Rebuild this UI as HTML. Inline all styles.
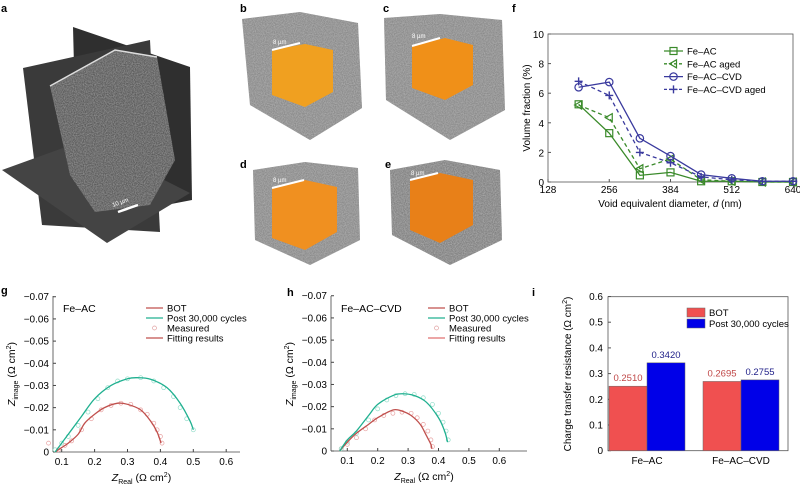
<!DOCTYPE html>
<html><head><meta charset="utf-8"><style>
html,body{margin:0;padding:0;background:#fff}
svg{display:block;font-family:"Liberation Sans",sans-serif}
</style></head><body>
<svg id="fig" width="800" height="484" viewBox="0 0 800 484">
<defs>
<filter id="noise" x="0" y="0" width="100%" height="100%"><feTurbulence type="fractalNoise" baseFrequency="0.9" numOctaves="2" seed="3"/><feColorMatrix type="matrix" values="0 0 0 0 0.5  0 0 0 0 0.5  0 0 0 0 0.5  0 0 0 1.2 -0.3"/><feComposite in2="SourceGraphic" operator="in"/></filter>
</defs>
<g font-weight="bold" font-size="11" fill="#000">
<text x="1" y="12">a</text><text x="240" y="12">b</text><text x="383" y="12">c</text><text x="512" y="12">f</text>
<text x="240" y="168">d</text><text x="385" y="168">e</text>
<text x="1" y="294">g</text><text x="287" y="296">h</text><text x="532" y="296">i</text>
</g>
<!-- panel a -->
<g>
<polygon points="73,27 190,67 192,200 78,222" fill="#2f2f2f"/>
<polygon points="23,68 150,40 160,232 42,225" fill="#3a3a3a"/>
<polygon points="2,170 85,140 190,193 107,243" fill="#444"/>
<polygon points="50,86 115,50 157,57 175,160 150,205 95,212 70,175" fill="#5a5a5a"/>
<polygon points="50,86 115,50 157,57 175,160 150,205 95,212 70,175" fill="#777" filter="url(#noise)" opacity="0.8"/>
<polyline points="50,86 115,50 157,57" fill="none" stroke="#ddd" stroke-width="1.5"/>
<line x1="118" y1="212" x2="138" y2="205" stroke="#fff" stroke-width="2.5"/>
<text x="113" y="207" font-size="6" fill="#fff" transform="rotate(-20 113 207)">10 µm</text>
</g>
<!-- panels b-e -->
<g>
<polygon points="242,19 300,12 358,23 362,108 310,140 250,105" fill="#8a8a8a"/>
<polygon points="242,19 300,12 358,23 362,108 310,140 250,105" fill="#999" filter="url(#noise)"/>
<polygon points="272,50 305,44 333,50 333,92 305,107 272,95" fill="#f0a020"/>
<line x1="272" y1="50" x2="300" y2="43" stroke="#fff" stroke-width="2"/><text x="273" y="44" font-size="6" fill="#fff">8 µm</text></g>
<g>
<polygon points="384,18 440,14 502,20 505,110 450,140 386,100" fill="#8a8a8a"/>
<polygon points="384,18 440,14 502,20 505,110 450,140 386,100" fill="#999" filter="url(#noise)"/>
<polygon points="412,46 445,38 473,45 473,85 445,100 412,88" fill="#f09018"/>
<line x1="412" y1="46" x2="440" y2="38" stroke="#fff" stroke-width="2"/><text x="412" y="38" font-size="6" fill="#fff">8 µm</text></g>
<g>
<polygon points="253,170 305,162 358,168 360,240 310,265 255,240" fill="#8a8a8a"/>
<polygon points="253,170 305,162 358,168 360,240 310,265 255,240" fill="#999" filter="url(#noise)"/>
<polygon points="272,188 305,180 337,187 337,232 305,250 272,238" fill="#f09020"/>
<line x1="272" y1="188" x2="304" y2="180" stroke="#fff" stroke-width="2"/><text x="273" y="182" font-size="6" fill="#fff">8 µm</text></g>
<g>
<polygon points="390,170 445,160 500,170 502,240 450,265 392,235" fill="#808080"/>
<polygon points="390,170 445,160 500,170 502,240 450,265 392,235" fill="#999" filter="url(#noise)"/>
<polygon points="410,180 440,173 473,180 473,225 440,243 410,230" fill="#e88018"/>
<line x1="410" y1="180" x2="438" y2="173" stroke="#fff" stroke-width="2"/><text x="411" y="175" font-size="6" fill="#fff">8 µm</text></g>
<g id="pf"></g>
<g id="pg"></g>
<g id="ph"></g>
<g id="pi"></g>
</svg>
<script>
// ---- panel f data ----
const fX=[192,256,320,384,448,512,576,640];
const fFeAC=[5.25,3.3,0.45,0.65,0.05,0.05,0,0];
const fFeACaged=[5.2,4.35,0.9,1.55,0.15,0.05,0,0];
const fCVD=[6.4,6.75,2.95,1.75,0.5,0.25,0.05,0.05];
const fCVDaged=[6.8,5.85,2.0,1.3,0.35,0.15,0.05,0.05];
const fXTicks=[128,256,384,512,640];
const fYTicks=[0,2,4,6,8,10];
// ---- panel g data ----
const gBotFitX=[0.08,0.1,0.12,0.15,0.17,0.2,0.23,0.27,0.3,0.34,0.37,0.39,0.402];
const gBotFitY=[0,-0.002,-0.004,-0.008,-0.013,-0.017,-0.02,-0.022,-0.0215,-0.019,-0.014,-0.009,-0.004];
const gPostFitX=[0.08,0.1,0.13,0.16,0.2,0.25,0.3,0.33,0.37,0.42,0.46,0.49,0.5];
const gPostFitY=[0,-0.004,-0.01,-0.016,-0.024,-0.03,-0.033,-0.0335,-0.0328,-0.029,-0.022,-0.014,-0.01];
const gBotMeasX=[0.06,0.09,0.11,0.13,0.16,0.19,0.22,0.25,0.28,0.31,0.34,0.36,0.38,0.39,0.4,0.405];
const gBotMeasY=[-0.004,-0.001,-0.003,-0.005,-0.01,-0.015,-0.019,-0.021,-0.022,-0.0215,-0.019,-0.017,-0.013,-0.01,-0.007,-0.004];
const gPostMeasX=[0.08,0.1,0.12,0.15,0.18,0.21,0.24,0.27,0.3,0.34,0.38,0.41,0.44,0.46,0.48,0.5];
const gPostMeasY=[-0.001,-0.004,-0.007,-0.012,-0.018,-0.024,-0.029,-0.032,-0.033,-0.0335,-0.032,-0.029,-0.025,-0.02,-0.015,-0.01];
// ---- panel h data ----
const hBotFitX=[0.075,0.1,0.13,0.17,0.2,0.25,0.28,0.31,0.34,0.36,0.375,0.378];
const hBotFitY=[0,-0.004,-0.008,-0.012,-0.015,-0.0185,-0.018,-0.016,-0.012,-0.007,-0.003,-0.001];
const hPostFitX=[0.075,0.1,0.13,0.17,0.2,0.25,0.28,0.32,0.36,0.4,0.42,0.43];
const hPostFitY=[0,-0.005,-0.009,-0.016,-0.021,-0.025,-0.0258,-0.025,-0.022,-0.015,-0.009,-0.004];
const hBotMeasX=[0.08,0.1,0.13,0.16,0.19,0.22,0.25,0.28,0.31,0.33,0.35,0.365,0.375,0.38];
const hBotMeasY=[-0.001,-0.003,-0.006,-0.01,-0.014,-0.016,-0.017,-0.0175,-0.017,-0.015,-0.012,-0.009,-0.005,-0.002];
const hPostMeasX=[0.08,0.1,0.13,0.17,0.2,0.23,0.26,0.29,0.32,0.35,0.38,0.4,0.415,0.425,0.432];
const hPostMeasY=[-0.001,-0.004,-0.008,-0.014,-0.019,-0.023,-0.025,-0.0258,-0.0255,-0.024,-0.021,-0.017,-0.013,-0.009,-0.005];
const nyXTicks=[0.1,0.2,0.3,0.4,0.5,0.6];
const nyYTicks=[0,-0.01,-0.02,-0.03,-0.04,-0.05,-0.06,-0.07];
// ---- panel i data ----
const iCats=["Fe–AC","Fe–AC–CVD"];
const iBot=[0.2510,0.2695];
const iPost=[0.3420,0.2755];
const iYTicks=[0,0.1,0.2,0.3,0.4,0.5,0.6];

const NS="http://www.w3.org/2000/svg";
function mk(parent,tag,attrs,txt){const e=document.createElementNS(NS,tag);for(const k in attrs)e.setAttribute(k,attrs[k]);if(txt!==undefined)e.textContent=txt;parent.appendChild(e);return e;}
function smooth(pts){let d="M"+pts[0][0]+","+pts[0][1];for(let i=0;i<pts.length-1;i++){const p0=pts[Math.max(0,i-1)],p1=pts[i],p2=pts[i+1],p3=pts[Math.min(pts.length-1,i+2)];const c1=[p1[0]+(p2[0]-p0[0])/6,p1[1]+(p2[1]-p0[1])/6],c2=[p2[0]-(p3[0]-p1[0])/6,p2[1]-(p3[1]-p1[1])/6];d+=" C"+c1+" "+c2+" "+p2;}return d;}

// ===== panel f =====
(function(){
const g=document.getElementById('pf');
const x=v=>548+(v-128)*(245/512), y=v=>182-v*14.8;
const fr=mk(g,'rect',{x:548,y:34,width:245,height:148,fill:'none',stroke:'#555','stroke-width':0.8});

fYTicks.forEach(t=>{mk(g,'line',{x1:548,x2:551,y1:y(t),y2:y(t),stroke:'#555'});
 const l=mk(g,'text',{x:544,y:y(t)+4,'font-size':10,'text-anchor':'end'},t);});
fXTicks.forEach(t=>{mk(g,'line',{x1:x(t),x2:x(t),y1:182,y2:179,stroke:'#555'});
 const l=mk(g,'text',{x:x(t),y:193,'font-size':10,'text-anchor':'middle'},t);});
const xt=mk(g,'text',{x:670,y:207,'font-size':10,'text-anchor':'middle'});xt.innerHTML='Void equivalent diameter, <tspan font-style="italic">d</tspan> (nm)';

const yt=mk(g,'text',{x:0,y:0,'font-size':10,'text-anchor':'middle',transform:'translate(530,108) rotate(-90)'},'Volume fraction (%)');

const series=[[fFeAC,'#3a8a2a','','sq','Fe–AC'],[fFeACaged,'#3a8a2a','4,3','tri','Fe–AC aged'],[fCVD,'#3a3a9e','','circ','Fe–AC–CVD'],[fCVDaged,'#3a3a9e','4,3','plus','Fe–AC–CVD aged']];
function marker(p,type,cx,cy,c){if(type==='sq')return mk(p,'rect',{x:cx-3.5,y:cy-3.5,width:7,height:7,fill:'none',stroke:c,'stroke-width':1.2});
 if(type==='circ')return mk(p,'circle',{cx:cx,cy:cy,r:3.7,fill:'none',stroke:c,'stroke-width':1.2});
 if(type==='tri')return mk(p,'polygon',{points:`${cx-4},${cy} ${cx+3},${cy-4} ${cx+3},${cy+4}`,fill:'none',stroke:c,'stroke-width':1.2});
 return mk(p,'path',{d:`M${cx-4},${cy}H${cx+4}M${cx},${cy-4}V${cy+4}`,stroke:c,'stroke-width':1.4});}
series.forEach((s,si)=>{const sg=mk(g,'g',{});
 const pts=fX.map((v,i)=>x(v)+','+y(s[0][i])).join(' ');
 mk(sg,'polyline',{points:pts,fill:'none',stroke:s[1],'stroke-width':1.3,'stroke-dasharray':s[2]});
 fX.forEach((v,i)=>{const m=marker(sg,s[3],x(v),y(s[0][i]),s[1]);});
 const ly=51+si*12.8;const lg=mk(g,'g',{});
 mk(lg,'line',{x1:664,x2:683,y1:ly,y2:ly,stroke:s[1],'stroke-width':1.3,'stroke-dasharray':s[2]?'3,2':''});
 marker(lg,s[3],673.5,ly,s[1]);mk(lg,'text',{x:687,y:ly+3.5,'font-size':9.5},s[4]);});
})();

// ===== panels g & h =====
function nyquist(id,x0,x1,pxPer,bottom,left,right,label,botF,postF,botM,postM,legendX,fitLegendColor){
 const g=document.getElementById(id);
 const x=v=>x0+(v-0.1)*pxPer*10, y=v=>bottom+v*2218;
 const pre=id[1];
 mk(g,'line',{x1:left,x2:left,y1:296,y2:bottom,stroke:'#444','stroke-width':0.8});
 mk(g,'line',{x1:left,x2:right,y1:bottom,y2:bottom,stroke:'#444','stroke-width':0.8});
 nyYTicks.forEach(t=>{mk(g,'line',{x1:left,x2:left+3,y1:y(t),y2:y(t),stroke:'#444'});
  const l=mk(g,'text',{x:left-4,y:y(t)+3.5,'font-size':10,'text-anchor':'end'},t===0?'0':'−'+Math.abs(t).toFixed(2));
  });
 nyXTicks.forEach(t=>{mk(g,'line',{x1:x(t),x2:x(t),y1:bottom,y2:bottom-3,stroke:'#444'});
  const l=mk(g,'text',{x:x(t),y:bottom+13,'font-size':10,'text-anchor':'middle'},t.toFixed(1));
  });
 const xt=mk(g,'text',{x:(left+right)/2-5,y:bottom+29,'font-size':10.5,'text-anchor':'middle'});
 xt.innerHTML='<tspan font-style="italic">Z</tspan><tspan font-size="7" dy="3">Real</tspan><tspan dy="-3"> (Ω cm</tspan><tspan font-size="7" dy="-4">2</tspan><tspan dy="4">)</tspan>';
 
 const yt=mk(g,'text',{x:0,y:0,'font-size':10.5,'text-anchor':'middle',transform:`translate(${left-38},374) rotate(-90)`});
 yt.innerHTML='<tspan font-style="italic">Z</tspan><tspan font-size="7" dy="3">image</tspan><tspan dy="-3"> (Ω cm</tspan><tspan font-size="7" dy="-4">2</tspan><tspan dy="4">)</tspan>';
 
 const tl=mk(g,'text',{x:left+10,y:312,'font-size':10.5},label);
 const meas=[[botM,'#e8a0a0'],[postM,'#90dcc8']];
 meas.forEach((m,mi)=>m[0][0].forEach((v,i)=>{const c=mk(g,'circle',{cx:x(v),cy:y(m[0][1][i]),r:2,fill:'none',stroke:m[1],'stroke-width':0.7});
  }));
 const fits=[[botF,'#c0504d'],[postF,'#20b090']];
 fits.forEach((f,fi)=>{const p=mk(g,'path',{d:smooth(f[0][0].map((v,i)=>[x(v),y(f[0][1][i])])),fill:'none',stroke:f[1],'stroke-width':1.3});
  });
 const lx=legendX;const items=[['BOT','#c0504d','line'],['Post 30,000 cycles','#20b090','line'],['Measured','#e0a0a0','circ'],['Fitting results',fitLegendColor,'line']];
 items.forEach((it,i)=>{const ly=308+i*10;const lg=mk(g,'g',{});
  if(it[2]==='line')mk(lg,'line',{x1:lx,x2:lx+17,y1:ly,y2:ly,stroke:it[1],'stroke-width':1.3});else mk(lg,'circle',{cx:lx+8.5,cy:ly,r:2,fill:'none',stroke:it[1],'stroke-width':0.7});
  mk(lg,'text',{x:lx+21,y:ly+3.5,'font-size':9.5},it[0]);});
}
nyquist('pg',61.7,0,32.9,452,53,240,'Fe–AC',[gBotFitX,gBotFitY],[gPostFitX,gPostFitY],[gBotMeasX,gBotMeasY],[gPostMeasX,gPostMeasY],146,'#c0504d');
nyquist('ph',347.3,0,30.4,451,331,527,'Fe–AC–CVD',[hBotFitX,hBotFitY],[hPostFitX,hPostFitY],[hBotMeasX,hBotMeasY],[hPostMeasX,hPostMeasY],428,'#e07070');

// ===== panel i =====
(function(){
const g=document.getElementById('pi');
const y=v=>450.7-v*257;
const cx=[647,741],bw=38;
const fr=mk(g,'rect',{x:608,y:296.7,width:180,height:154,fill:'none',stroke:'#555','stroke-width':0.8});

iYTicks.forEach(t=>{mk(g,'line',{x1:608,x2:611,y1:y(t),y2:y(t),stroke:'#555'});
 const l=mk(g,'text',{x:603,y:y(t)+3.5,'font-size':10,'text-anchor':'end'},t===0?'0':t.toFixed(1));});
iCats.forEach((c,i)=>{
 const b1=mk(g,'rect',{x:cx[i]-bw,y:y(iBot[i]),width:bw,height:450.7-y(iBot[i]),fill:'#f05050',stroke:'#666','stroke-width':0.5});
 
 const b2=mk(g,'rect',{x:cx[i],y:y(iPost[i]),width:bw,height:450.7-y(iPost[i]),fill:'#0000e8',stroke:'#666','stroke-width':0.5});
 
 const t1=mk(g,'text',{x:cx[i]-bw/2,y:y(iBot[i])-5,'font-size':9.5,'text-anchor':'middle',fill:'#c04848'},iBot[i].toFixed(4));
 
 const t2=mk(g,'text',{x:cx[i]+bw/2,y:y(iPost[i])-5,'font-size':9.5,'text-anchor':'middle',fill:'#22228a'},iPost[i].toFixed(4));
 
 const cl=mk(g,'text',{x:cx[i],y:464,'font-size':10,'text-anchor':'middle'},c);
});
const yt=mk(g,'text',{x:0,y:0,'font-size':10,'text-anchor':'middle',transform:'translate(571,374) rotate(-90)'});
yt.innerHTML='Charge transfer resistance (Ω cm<tspan font-size="7" dy="-4">2</tspan><tspan dy="4">)</tspan>';

[['BOT','#f05050'],['Post 30,000 cycles','#0000e8']].forEach((it,i)=>{const lg=mk(g,'g',{});
 mk(lg,'rect',{x:687,y:308+i*11,width:18,height:9,fill:it[1],stroke:'#666','stroke-width':0.5});mk(lg,'text',{x:709,y:316+i*11,'font-size':9.5},it[0]);});
})();
</script>
</body></html>
